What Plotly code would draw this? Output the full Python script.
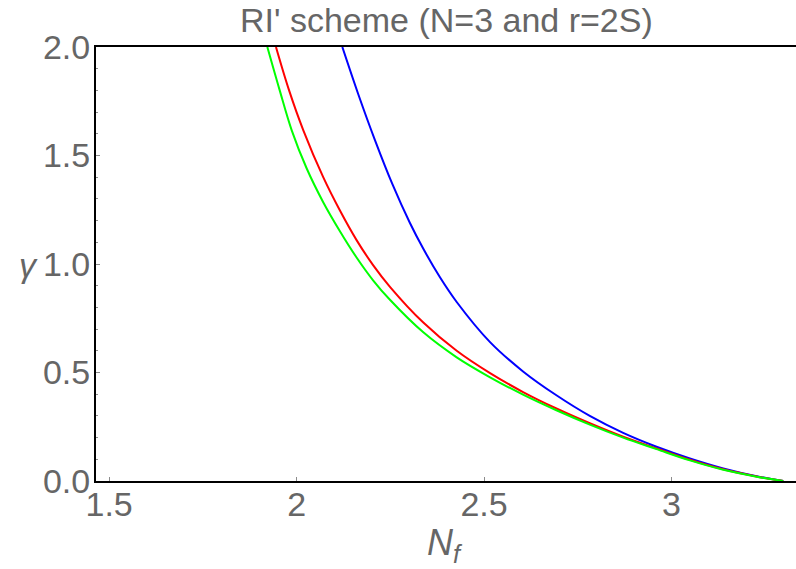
import plotly.graph_objects as go

# Anomalous dimension gamma versus number of flavours N_f (RI' scheme, N=3, r=2S)
nf_blue = [2.122, 2.165, 2.209, 2.255, 2.302, 2.338, 2.382, 2.427, 2.516, 2.604,
           2.693, 2.782, 2.871, 2.960, 3.049, 3.138, 3.227, 3.298]
gamma_blue = [2.0, 1.78, 1.571, 1.37, 1.19, 1.07, 0.94, 0.825, 0.64, 0.505,
              0.395, 0.300, 0.222, 0.158, 0.104, 0.058, 0.022, 0.0]

nf_red = [1.945, 1.980, 2.018, 2.071, 2.116, 2.160, 2.204, 2.249, 2.338, 2.427, 2.516,
          2.604, 2.693, 2.782, 2.871, 2.960, 3.049, 3.138, 3.227, 3.298]
gamma_red = [2.0, 1.80, 1.616, 1.40, 1.245, 1.11, 0.995, 0.895, 0.73, 0.60, 0.497,
             0.410, 0.334, 0.266, 0.204, 0.150, 0.098, 0.054, 0.021, 0.0]

nf_green = [1.922, 1.955, 1.987, 2.027, 2.071, 2.116, 2.160, 2.204, 2.249, 2.338, 2.427,
            2.516, 2.604, 2.693, 2.782, 2.871, 2.960, 3.049, 3.138, 3.227, 3.298]
gamma_green = [2.0, 1.80, 1.616, 1.44, 1.285, 1.15, 1.03, 0.925, 0.835, 0.685, 0.57,
               0.478, 0.398, 0.326, 0.260, 0.200, 0.147, 0.095, 0.052, 0.020, 0.0]

x_ticks = [1.5, 2, 2.5, 3]
x_tick_text = ["1.5", "2", "2.5", "3"]
y_ticks = [0, 0.5, 1.0, 1.5, 2.0]
y_tick_text = ["0.0", "0.5", "1.0", "1.5", "2.0"]

FONT = "Liberation Sans, Arial, sans-serif"
TEXT_GREY = "#666666"
TICK_GREY = "#8c8c8c"
FS = 34

fig = go.Figure()
for xs, ys, col in [(nf_blue, gamma_blue, "#0000ff"),
                    (nf_red, gamma_red, "#ff0000"),
                    (nf_green, gamma_green, "#00ff00")]:
    fig.add_trace(go.Scatter(x=xs, y=ys, mode="lines",
                             line=dict(color=col, width=2, shape="spline", smoothing=1.0),
                             hoverinfo="skip"))

fig.update_layout(
    width=796, height=569,
    margin=dict(l=96, r=0, t=47, b=88),
    paper_bgcolor="white", plot_bgcolor="white",
    showlegend=False,
    font=dict(family=FONT, color=TEXT_GREY),
)

fig.update_xaxes(
    range=[1.465, 3.332],
    tickvals=x_ticks, ticktext=x_tick_text,
    ticks="inside", ticklen=4, tickwidth=1, tickcolor=TICK_GREY,
    showline=True, linecolor="black", linewidth=2, mirror=True,
    showgrid=False, zeroline=False,
    ticklabelstandoff=-8,
    tickfont=dict(family=FONT, size=FS, color=TEXT_GREY),
)
fig.update_yaxes(
    range=[0, 2],
    tickvals=y_ticks, ticktext=y_tick_text,
    ticks="inside", ticklen=4, tickwidth=1, tickcolor=TICK_GREY,
    minor=dict(dtick=0.1, tick0=0, ticks="inside", ticklen=2, tickwidth=1, tickcolor=TICK_GREY),
    showline=True, linecolor="black", linewidth=2, mirror=False,
    showgrid=False, zeroline=False,
    ticklabelstandoff=-3,
    tickfont=dict(family=FONT, size=FS, color=TEXT_GREY),
)

fig.add_annotation(text="RI' scheme (N=3 and r=2S)", xref="paper", yref="paper",
                   x=0.5, y=1.062, xanchor="center", yanchor="middle", showarrow=False,
                   font=dict(family=FONT, size=FS, color=TEXT_GREY))
fig.add_annotation(text="<i>γ</i>", xref="paper", yref="paper",
                   x=-0.097, y=0.497, xanchor="center", yanchor="middle", showarrow=False,
                   font=dict(family=FONT, size=34, color=TEXT_GREY))
fig.add_annotation(text="<i>N</i><sub><i>f</i></sub>", xref="paper", yref="paper",
                   x=0.498, y=-0.148, xanchor="center", yanchor="middle", showarrow=False,
                   font=dict(family=FONT, size=36, color=TEXT_GREY))

fig.write_html("out.html")
